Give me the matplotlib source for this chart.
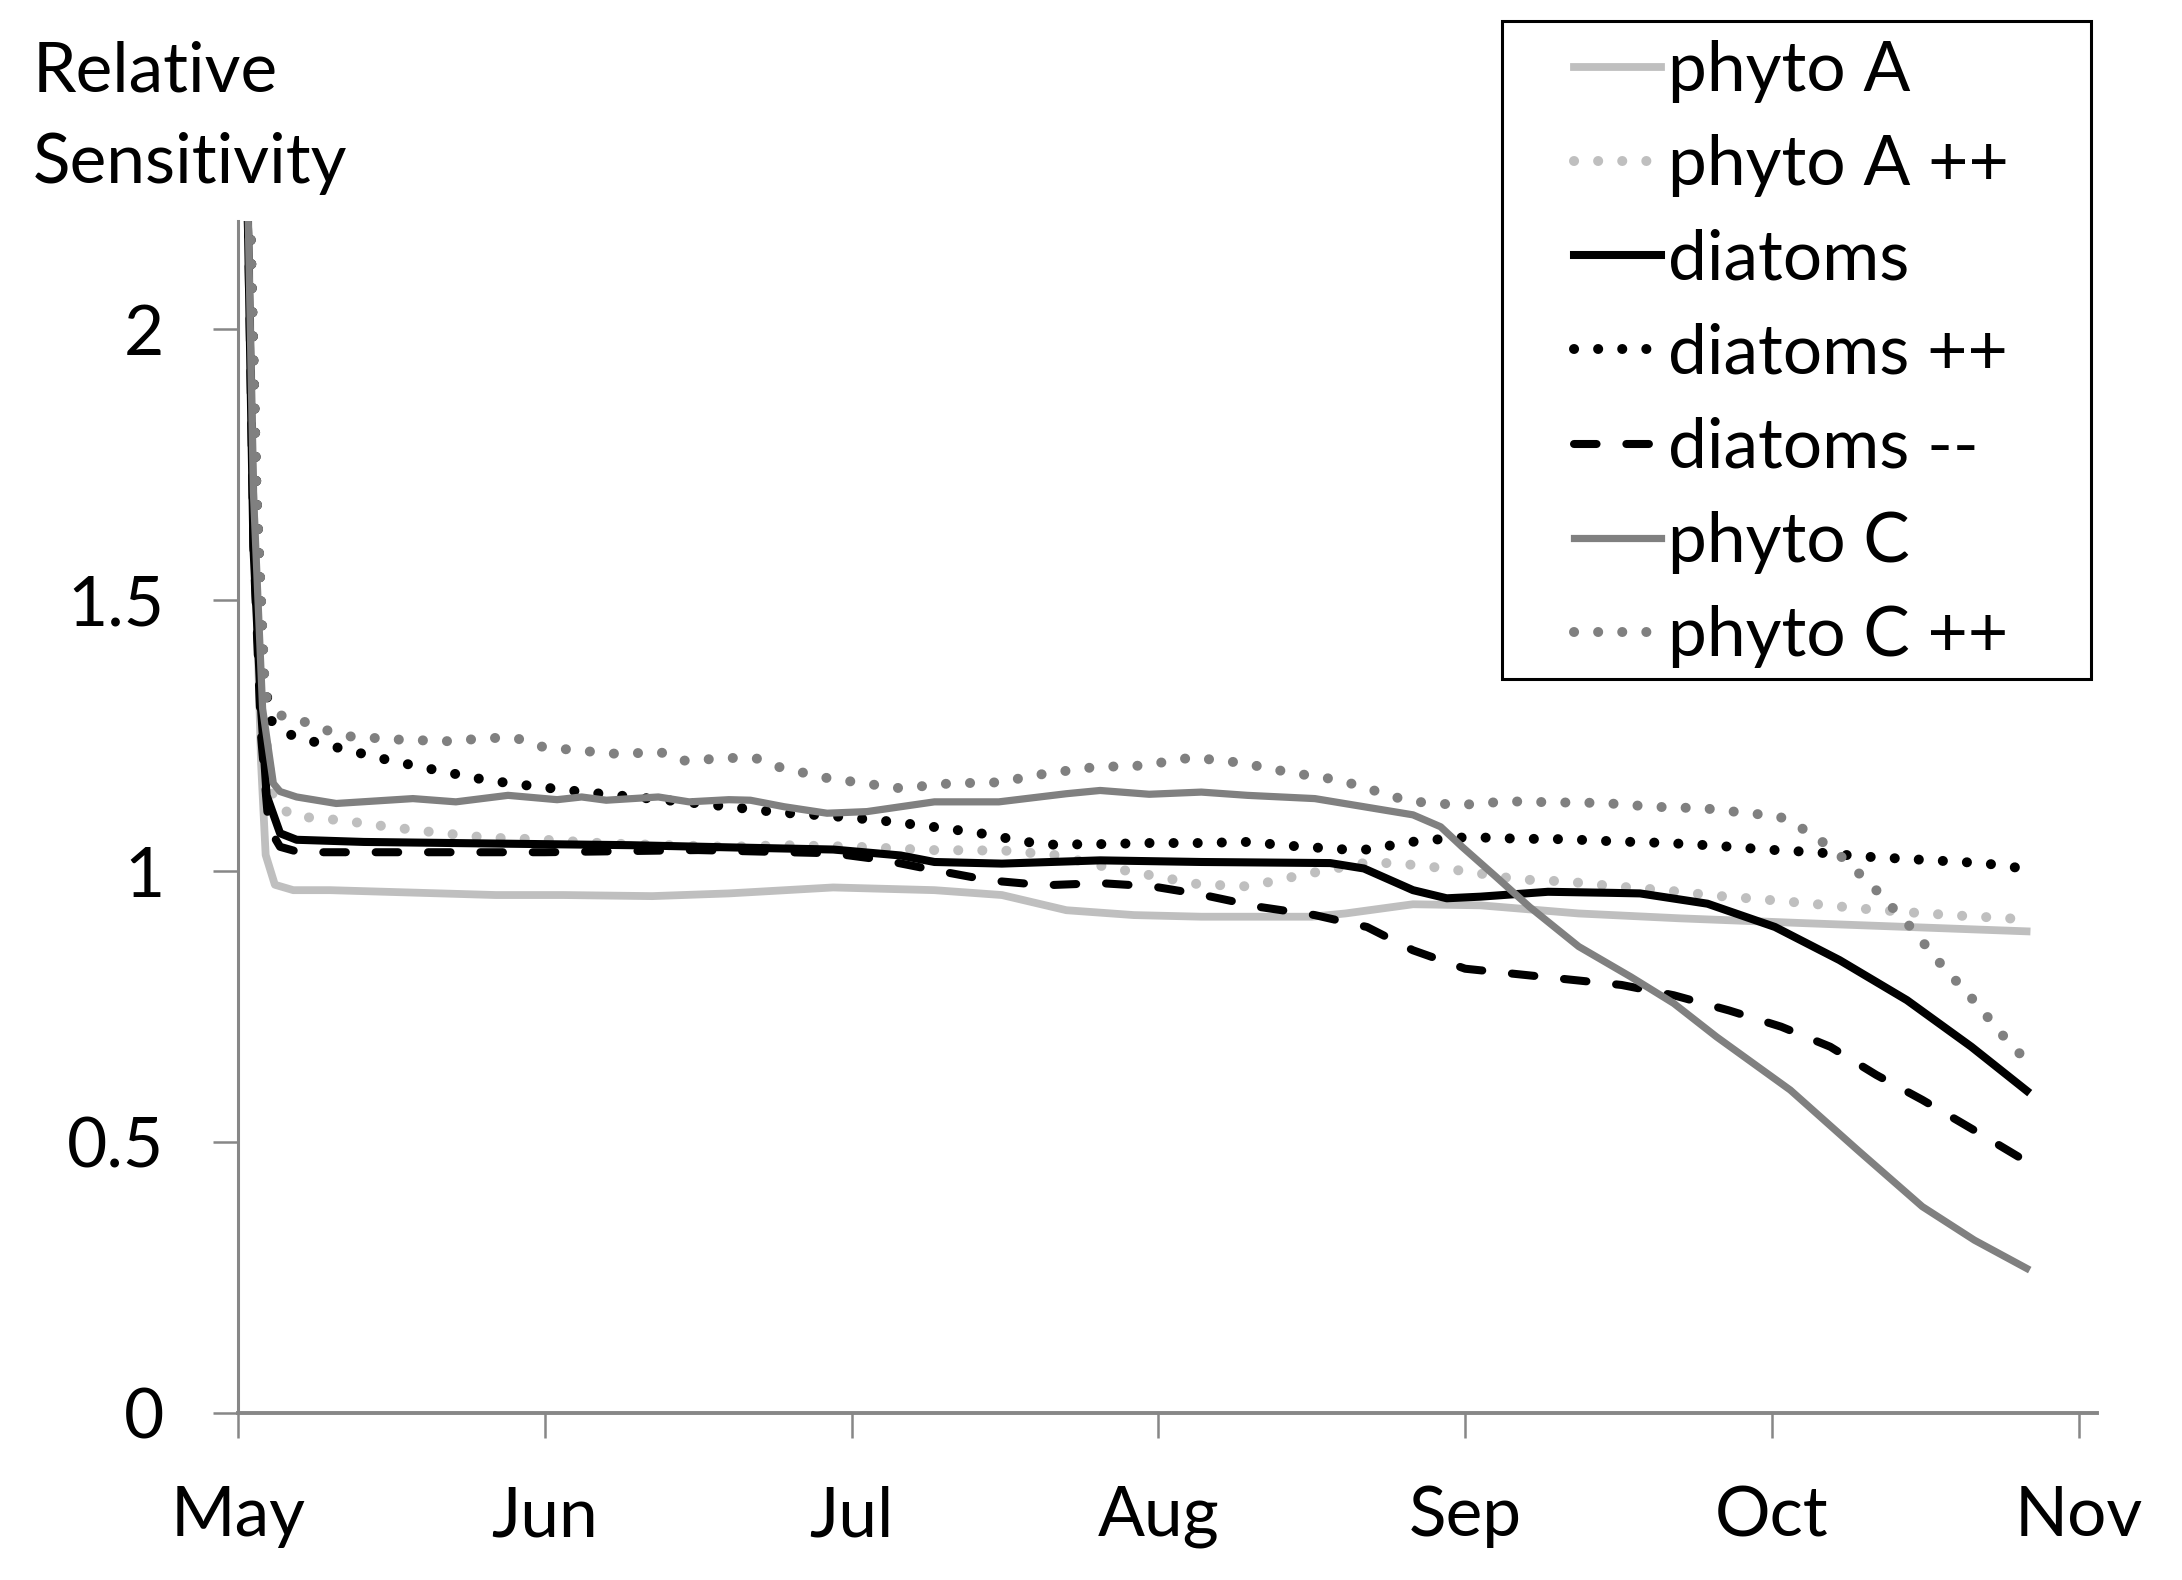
import matplotlib
matplotlib.use("Agg")
import matplotlib.pyplot as plt
from matplotlib.patches import Rectangle

plt.rcParams['font.family'] = ['Lato', 'DejaVu Sans']

# x = months after 1 May (0 = May, 6 = Nov)
months = ['May', 'Jun', 'Jul', 'Aug', 'Sep', 'Oct', 'Nov']

phyto_a_x = [0.02, 0.05, 0.075, 0.09, 0.12, 0.18, 0.30, 0.84, 1.06, 1.35, 1.60, 1.94, 2.27, 2.49,
             2.70, 2.92, 3.14, 3.50, 3.61, 3.83, 4.05, 4.37, 4.70, 5.11, 5.83]
phyto_a_y = [2.6, 1.7, 1.2, 1.03, 0.975, 0.965, 0.965, 0.956, 0.956, 0.954, 0.959, 0.970, 0.965, 0.956,
             0.928, 0.919, 0.916, 0.916, 0.922, 0.939, 0.937, 0.922, 0.913, 0.904, 0.889]

phyto_a_pp_x = [0.02, 0.06, 0.09, 0.115, 0.175, 0.335, 0.49, 0.65, 0.81, 0.97, 1.21, 1.60, 1.78, 2.02,
                2.26, 2.50, 2.66, 2.82, 2.97, 3.13, 3.29, 3.37, 3.45, 3.53, 3.69, 3.85, 4.00, 4.17,
                4.33, 4.49, 4.65, 4.81, 4.97, 5.13, 5.29, 5.45, 5.61, 5.77, 5.83]
phyto_a_pp_y = [2.7, 1.6, 1.25, 1.131, 1.102, 1.094, 1.082, 1.071, 1.062, 1.059, 1.051, 1.045, 1.048, 1.045,
                1.039, 1.038, 1.030, 1.009, 0.993, 0.976, 0.972, 0.981, 0.991, 1.000, 1.017, 1.011, 1.000, 0.985,
                0.981, 0.972, 0.965, 0.955, 0.948, 0.940, 0.931, 0.924, 0.918, 0.913, 0.911]

diatoms_x = [0.02, 0.05, 0.075, 0.093, 0.137, 0.191, 0.41, 0.84, 1.28, 1.60, 1.94, 2.16, 2.27, 2.49,
             2.81, 3.14, 3.56, 3.67, 3.83, 3.94, 4.05, 4.27, 4.48, 4.57, 4.79, 5.01, 5.22, 5.44, 5.65, 5.83]
diatoms_y = [2.6, 1.6, 1.3, 1.14, 1.07, 1.058, 1.054, 1.051, 1.048, 1.044, 1.040, 1.029, 1.017, 1.014,
             1.020, 1.017, 1.015, 1.005, 0.965, 0.950, 0.953, 0.962, 0.960, 0.959, 0.940, 0.897, 0.836, 0.762, 0.676, 0.595]

diatoms_pp_x = [0.02, 0.06, 0.085, 0.11, 0.18, 0.26, 0.34, 0.49, 0.65, 0.81, 0.96, 1.13, 1.29, 1.45,
                1.60, 1.77, 1.93, 2.09, 2.25, 2.41, 2.57, 2.65, 2.81, 2.97, 3.13, 3.29, 3.45, 3.61,
                3.69, 3.77, 3.85, 4.01, 4.17, 4.33, 4.49, 4.66, 4.82, 4.98, 5.14, 5.30, 5.46, 5.62, 5.70, 5.82]
diatoms_pp_y = [2.7, 1.7, 1.35, 1.276, 1.249, 1.237, 1.226, 1.205, 1.186, 1.168, 1.157, 1.146, 1.137, 1.128,
                1.119, 1.108, 1.102, 1.094, 1.083, 1.071, 1.054, 1.049, 1.050, 1.052, 1.052, 1.054, 1.046, 1.040,
                1.040, 1.049, 1.056, 1.063, 1.060, 1.059, 1.055, 1.052, 1.047, 1.040, 1.035, 1.027, 1.022, 1.017, 1.014, 1.005]

diatoms_mm_x = [0.02, 0.05, 0.075, 0.10, 0.137, 0.20, 0.60, 1.00, 1.50, 1.72, 1.94, 2.10, 2.27, 2.45,
                2.63, 2.81, 2.98, 3.13, 3.33, 3.51, 3.68, 3.83, 4.00, 4.17, 4.34, 4.51, 4.68, 4.86,
                5.03, 5.19, 5.34, 5.49, 5.65, 5.83]
diatoms_mm_y = [2.6, 1.6, 1.25, 1.08, 1.045, 1.035, 1.035, 1.035, 1.039, 1.036, 1.033, 1.021, 1.002, 0.983,
                0.974, 0.978, 0.972, 0.958, 0.934, 0.919, 0.897, 0.854, 0.820, 0.810, 0.800, 0.790, 0.771, 0.743,
                0.713, 0.676, 0.624, 0.578, 0.525, 0.464]

phyto_c_x = [0.02, 0.05, 0.08, 0.115, 0.137, 0.191, 0.32, 0.57, 0.71, 0.88, 1.04, 1.12, 1.20, 1.37,
             1.47, 1.60, 1.67, 1.78, 1.92, 2.05, 2.27, 2.48, 2.70, 2.81, 2.97, 3.14, 3.29, 3.51,
             3.67, 3.83, 3.92, 3.99, 4.10, 4.21, 4.37, 4.54, 4.68, 4.82, 5.06, 5.28, 5.49, 5.66, 5.83]
phyto_c_y = [2.6, 1.7, 1.3, 1.162, 1.147, 1.137, 1.125, 1.134, 1.128, 1.140, 1.132, 1.137, 1.131, 1.137,
             1.128, 1.132, 1.131, 1.119, 1.107, 1.110, 1.128, 1.128, 1.143, 1.149, 1.142, 1.146, 1.140, 1.134,
             1.119, 1.104, 1.082, 1.045, 0.990, 0.934, 0.861, 0.805, 0.756, 0.694, 0.596, 0.485, 0.381, 0.319, 0.267]

phyto_c_pp_x = [0.02, 0.06, 0.088, 0.137, 0.21, 0.29, 0.36, 0.52, 0.68, 0.83, 0.91, 0.99, 1.07, 1.22,
                1.38, 1.45, 1.61, 1.69, 1.77, 1.92, 2.08, 2.16, 2.32, 2.48, 2.63, 2.79, 2.95, 3.11,
                3.27, 3.43, 3.58, 3.66, 3.74, 3.82, 3.98, 4.14, 4.30, 4.45, 4.61, 4.78, 4.94, 5.02,
                5.09, 5.16, 5.22, 5.28, 5.34, 5.45, 5.55, 5.66, 5.76, 5.83]
phyto_c_pp_y = [2.7, 1.7, 1.325, 1.288, 1.277, 1.260, 1.249, 1.243, 1.240, 1.246, 1.245, 1.230, 1.225, 1.217,
                1.219, 1.204, 1.209, 1.208, 1.191, 1.172, 1.159, 1.153, 1.162, 1.164, 1.180, 1.192, 1.195, 1.210,
                1.200, 1.182, 1.169, 1.157, 1.142, 1.129, 1.122, 1.129, 1.127, 1.126, 1.119, 1.116, 1.106, 1.102,
                1.082, 1.056, 1.030, 0.998, 0.965, 0.898, 0.829, 0.760, 0.692, 0.650]

light = '#bfbfbf'
mid = '#808080'
axis_gray = '#878787'

fig = plt.figure(figsize=(10.91, 7.9), dpi=200)
ax = fig.add_axes([0.1091, 0.1057, 0.852, 0.7544])

dot = (0, (0.01, 2.4))
dash = (0, (2.8, 3.7))
ax.plot(phyto_a_x, phyto_a_y, color=light, lw=2.8, label='phyto A')
ax.plot(phyto_a_pp_x, phyto_a_pp_y, color=light, lw=3.6, linestyle=dot, dash_capstyle='round', label='phyto A ++')
ax.plot(diatoms_x, diatoms_y, color='black', lw=2.9, label='diatoms')
ax.plot(diatoms_pp_x, diatoms_pp_y, color='black', lw=3.6, linestyle=dot, dash_capstyle='round', label='diatoms ++')
ax.plot(diatoms_mm_x, diatoms_mm_y, color='black', lw=2.9, linestyle=dash, dash_capstyle='round', label='diatoms --')
ax.plot(phyto_c_x, phyto_c_y, color=mid, lw=2.6, label='phyto C')
ax.plot(phyto_c_pp_x, phyto_c_pp_y, color=mid, lw=3.6, linestyle=dot, dash_capstyle='round', label='phyto C ++')

ax.set_xlim(0, 6.06)
ax.set_ylim(0, 2.2)
ax.set_xticks(range(len(months)))
ax.set_xticklabels(months)
ax.set_yticks([0, 0.5, 1, 1.5, 2])
ax.set_yticklabels(['0', '0.5', '1', '1.5', '2'])

for side in ['top', 'right']:
    ax.spines[side].set_visible(False)
ax.spines['left'].set_color(axis_gray)
ax.spines['left'].set_linewidth(1.1)
ax.spines['bottom'].set_color(axis_gray)
ax.spines['bottom'].set_linewidth(1.4)
ax.tick_params(axis='both', direction='out', length=9, width=0.9, color=axis_gray, labelsize=25)
ax.tick_params(axis='y', pad=17.5)
ax.tick_params(axis='x', pad=17)

fig.text(33 / 2182, 1 - 40 / 1580, 'Relative\nSensitivity', fontsize=25, ha='left', va='top', linespacing=1.57)

leg = ax.legend(loc='upper left', bbox_to_anchor=(1574 / 2182, 1 - 40 / 1580), bbox_transform=fig.transFigure,
                frameon=False, fontsize=25, handlelength=1.25, handletextpad=0.11, labelspacing=0.45,
                borderpad=0, borderaxespad=0)
fig.patches.append(Rectangle((1502 / 2182, 1 - 679 / 1580), 589 / 2182, 658 / 1580, transform=fig.transFigure,
                             fill=False, edgecolor='black', lw=1.1))

fig.savefig('out.png', dpi=200, facecolor='white')
